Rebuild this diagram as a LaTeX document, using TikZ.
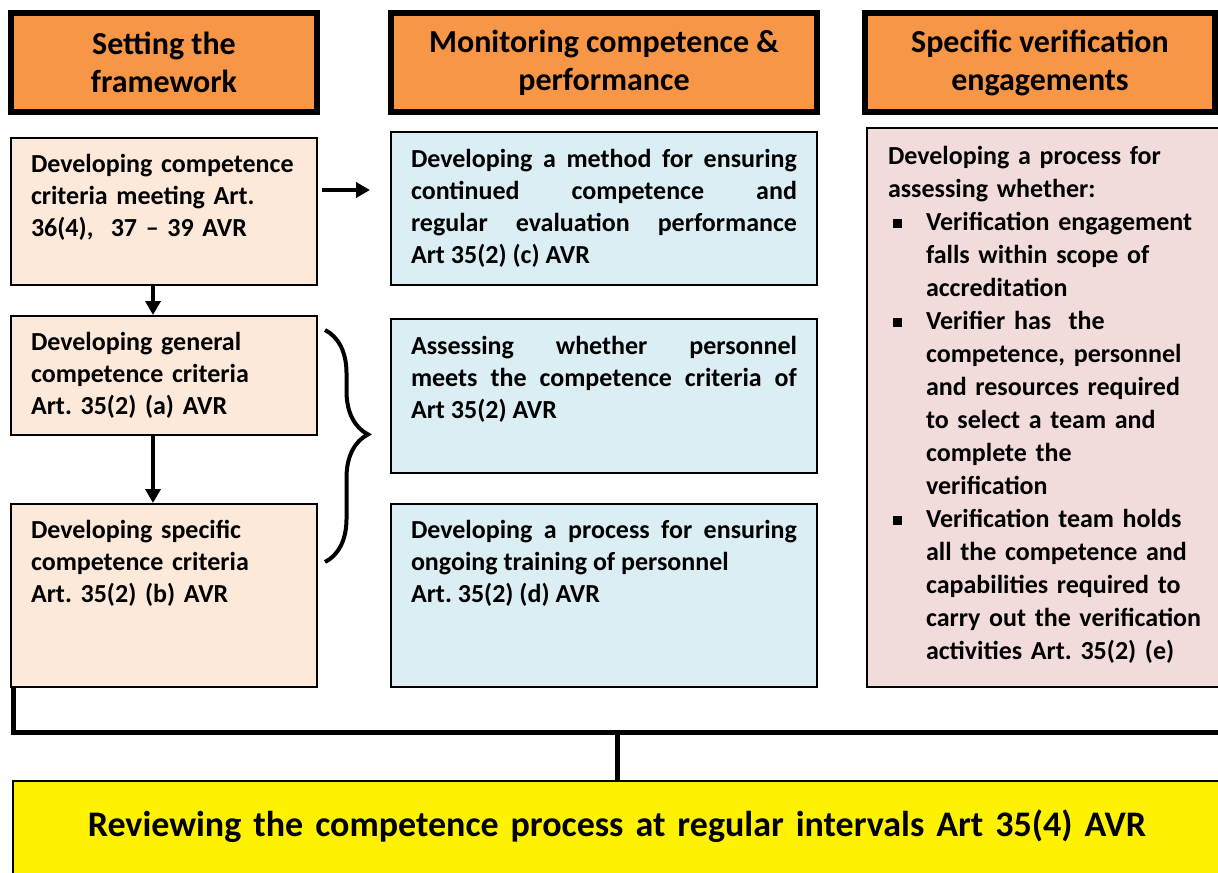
\documentclass[tikz,border=0pt]{standalone}
\usepackage{fontspec}
\setmainfont{Carlito}
\usetikzlibrary{positioning,arrows.meta,decorations.pathreplacing}
\definecolor{hdrorange}{HTML}{F79646}
\definecolor{peach}{HTML}{FDE9D9}
\definecolor{paleblue}{HTML}{DAEEF3}
\definecolor{palerose}{HTML}{F2DCDB}
\newcommand{\veritem}{\noindent\llap{\makebox[19pt][l]{\hspace{2.5pt}\rule[1.2pt]{4.5pt}{4.5pt}}}}
\frenchspacing

\begin{document}
\begin{tikzpicture}[x=0.5pt, y=-0.5pt,
    header/.style={draw, line width=3pt, fill=hdrorange, align=center, inner sep=0pt,
        minimum height=49.5pt, font=\fontsize{16}{19}\selectfont\bfseries},
    stagebox/.style={draw, line width=1pt, inner xsep=10pt, inner ysep=0pt,
        font=\fontsize{13}{16}\selectfont\bfseries},
    reviewbox/.style={draw, line width=1pt, fill=yellow, inner sep=0pt, text width=604pt,
        align=center, font=\fontsize{18}{22}\selectfont\bfseries},
    flowarrow/.style={line width=2.2pt, -{Triangle[length=7pt, width=7.5pt]}},
    busline/.style={line width=2.5pt}]
    \useasboundingbox (0,0) rectangle (1218,872);

    \node (hdrFrame) [header, minimum width=153pt] at (164,62.5) {Setting the\\framework};
    \node (hdrMon) [header, minimum width=213pt, right=34pt of hdrFrame] {Monitoring competence \&\\performance};
    \node (hdrVer) [header, minimum width=175pt, right=21pt of hdrMon] {Specific verification\\engagements};

    \node (critBase) [stagebox, fill=peach, text width=133pt, align=left, text height=17pt, text depth=56.5pt, anchor=north] at (164,137) {Developing competence\\criteria meeting Art.\\36(4),\ \ 37 – 39 AVR};
    \node (critGen) [stagebox, fill=peach, text width=133pt, align=left, text height=17pt, text depth=42.5pt, below=14.5pt of critBase] {Developing general\\competence criteria\\Art. 35(2) (a) AVR};
    \node (critSpec) [stagebox, fill=peach, text width=133pt, align=left, text height=17pt, text depth=74.5pt, below=33.5pt of critGen] {Developing specific\\competence criteria\\Art. 35(2) (b) AVR};

    \node (monMethod) [stagebox, fill=paleblue, text width=193pt, align=justify, text height=17.5pt, text depth=59pt, anchor=north] at (604,131) {Developing a method for ensuring\linebreak continued competence and\linebreak regular evaluation performance\linebreak Art 35(2) (c) AVR};
    \node (monAssess) [stagebox, fill=paleblue, text width=193pt, align=justify, text height=17.5pt, text depth=59.5pt, below=16pt of monMethod] {Assessing whether personnel\linebreak meets the competence criteria of\linebreak Art 35(2) AVR};
    \node (monTrain) [stagebox, fill=paleblue, text width=193pt, align=justify, text height=17pt, text depth=74.5pt, below=14.5pt of monAssess] {Developing a process for ensuring\linebreak ongoing training of personnel\\Art. 35(2) (d) AVR};

    \node (verProc) [stagebox, fill=palerose, inner xsep=10.5pt, text width=160pt, align=left, text height=18pt, text depth=261.5pt, anchor=north west, font=\fontsize{13}{16.5}\selectfont\bfseries] at (866,127) {Developing a process for\\assessing whether:\par
        \leftskip=19pt
        \veritem Verification engagement\\falls within scope of\\accreditation\par
        \veritem Verifier has\ \ the\\competence, personnel\\and resources required\\to select a team and\\complete the\\verification\par
        \veritem Verification team holds\\all the competence and\\capabilities required to\\carry out the verification\\activities Art. 35(2) (e)\par};

    \node (review) [reviewbox, text height=27.5pt, text depth=25pt, anchor=north] at (617,780) {Reviewing the competence process at regular intervals Art 35(4) AVR};

    \draw[flowarrow, shorten <=2pt, shorten >=10pt] ([yshift=10.75pt]critBase.east) -- ([yshift=10.75pt]critBase.east -| monMethod.west);
    \draw[flowarrow] ([xshift=-5.5pt]critBase.south) -- ([xshift=-5.5pt]critGen.north);
    \draw[flowarrow] ([xshift=-5.5pt]critGen.south) -- ([xshift=-5.5pt]critSpec.north);

    \draw[decorate, decoration={brace, amplitude=21.5pt, aspect=0.45}, line width=2pt] (325,330) -- (325,562);

    \coordinate (busEnd) at (1222,732);
    \draw[busline] ([xshift=1.5pt]critSpec.south west) |- (busEnd);
    \draw[busline] (review.north |- busEnd) -- (review.north);
\end{tikzpicture}
\end{document}
